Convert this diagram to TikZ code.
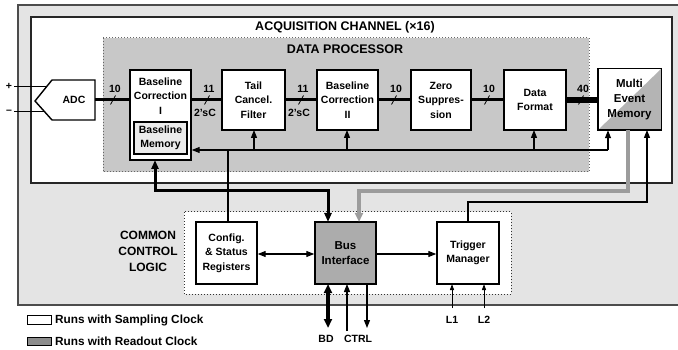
\documentclass[tikz,border=0pt]{standalone}
\usepackage{fontspec}
\setmainfont{Liberation Sans}
\usetikzlibrary{arrows.meta}
\definecolor{outerg}{HTML}{E4E4E4}
\definecolor{dpg}{HTML}{C8C8C8}
\definecolor{busg}{HTML}{ACACAC}
\definecolor{memg}{HTML}{B4B4B4}
\definecolor{bmg}{HTML}{EBEBEB}
\definecolor{legg}{HTML}{8C8C8C}
\definecolor{pathg}{HTML}{9C9C9C}
\tikzset{
  boxtext/.style={font=\fontsize{10.5}{14.5}\selectfont\bfseries, align=center, inner sep=0pt},
  blk/.style={draw, line width=1.4pt, fill=white, inner sep=0pt},
  datal/.style={line width=3pt},
  ctl/.style={line width=1.2pt},
  tip/.style={-{Triangle[length=8pt,width=6pt]}},
  smalltip/.style={-{Triangle[length=6pt,width=4pt]}},
  slash/.style={line width=0.8pt},
  lbl/.style={font=\fontsize{10.5}{12}\selectfont\bfseries, inner sep=0pt},
  title/.style={font=\fontsize{12.5}{14}\selectfont\bfseries, inner sep=0pt},
}
\begin{document}
\begin{tikzpicture}[x=1pt,y=-1pt]
\useasboundingbox (0,0) rectangle (678,350);
% outer common area
\fill[outerg] (18,5) rectangle (678,305);
\draw[line width=1.4pt, draw=black!70] (678,5) -- (18,5) -- (18,305) -- (678,305);
% acquisition channel
\draw[line width=1.4pt, fill=white, draw=black!85] (31,17) rectangle (672,183);
\node[title] (acqt) at (345,27) {ACQUISITION CHANNEL (×16)};
% data processor
\draw[dotted, line width=1pt, draw=black!60, fill=dpg] (103,38) rectangle (589,172);
\node[title] (dpt) at (345,49) {DATA PROCESSOR};
% common control logic
\draw[dotted, line width=1pt, draw=black!80, fill=white] (184,212) rectangle (511,294);
\node[title, align=center, font=\fontsize{12}{16}\selectfont\bfseries] (cclt) at (148,251) {COMMON\\CONTROL\\LOGIC};

% ADC inputs
\coordinate (pin) at (14,87);
\coordinate (nin) at (14,112);
\node[lbl] (plus) at (9,86) {+};
\node[lbl] (minus) at (9,112) {–};
\draw[line width=1pt] (pin) -- (48,87);
\draw[line width=1pt] (nin) -- (48,112);
\draw[line width=1.4pt, fill=white] (35,101) -- (52,80) -- (95,80) -- (95,120) -- (52,120) -- cycle;
\node[boxtext] (adc) at (74,100) {ADC};
\coordinate (adcout) at (95,100);

% processing boxes
\node[blk, minimum width=61pt, minimum height=90pt] (bci) at (160.5,115) {};
\node[boxtext] (bcit) at (160.5,96) {Baseline\\Correction\\I};
\node[draw, line width=1.2pt, fill=bmg, minimum width=53pt, minimum height=32pt, inner sep=0pt, boxtext] (bm) at (160.5,138) {Baseline\\Memory};
\node[blk, boxtext, minimum width=63pt, minimum height=60pt] (tail) at (253.5,100) {Tail\\Cancel.\\Filter};
\node[blk, boxtext, minimum width=61pt, minimum height=60pt] (bcii) at (347.5,100) {Baseline\\Correction\\II};
\node[blk, boxtext, minimum width=60pt, minimum height=60pt] (zs) at (441,100) {Zero\\Suppres-\\sion};
\node[blk, boxtext, minimum width=62pt, minimum height=60pt] (df) at (535,100) {Data\\Format};
% multi event memory
\node[minimum width=63pt, minimum height=61pt, inner sep=0pt, fill=white] (mem) at (629.5,99.5) {};
\fill[memg] (mem.south west) -- (mem.south east) -- (mem.north east) -- cycle;
\draw[line width=1.4pt] (mem.south west) rectangle (mem.north east);
\node[boxtext, font=\fontsize{11.5}{15}\selectfont\bfseries] (memt) at (629.5,99.5) {Multi\\Event\\Memory};

% data path
\draw[datal] (adcout) -- (bci.west |- 0,100);
\draw[datal] (bci.east |- 0,100) -- (tail.west);
\draw[datal] (tail.east) -- (bcii.west);
\draw[datal] (bcii.east) -- (zs.west);
\draw[datal] (zs.east) -- (df.west);
\draw[line width=6pt] (df.east) -- (mem.west |- 0,100);
% slashes and widths
\foreach \x/\w in {113/10, 207/11, 301/11, 394/10, 487/10, 581/40}{
  \draw[slash] (\x-2.5,104.5) -- (\x+2.5,95.5);
  \node[lbl] at (\x+2,89) {\w};
}
\node[lbl] (c1) at (205,113) {2'sC};
\node[lbl] (c2) at (299,113) {2'sC};

% control bus inside channel
\coordinate (cr) at (608,150);
\draw[ctl, tip] (cr) -- (bci.east |- cr);
\draw[ctl, tip] (cr) -- (cr |- mem.south);
\draw[ctl, tip] (254,150) -- (254,130);
\draw[ctl, tip] (347,150) -- (347,130);
\draw[ctl, tip] (534,150) -- (534,130);

% common control logic boxes
\node[blk, boxtext, minimum width=61pt, minimum height=62pt] (cfg) at (226.5,253) {Config.\\\& Status\\Registers};
\node[blk, boxtext, fill=busg, minimum width=61pt, minimum height=62pt, font=\fontsize{11.5}{15}\selectfont\bfseries] (bus) at (345.5,253) {Bus\\Interface};
\node[blk, boxtext, minimum width=62pt, minimum height=62pt] (trig) at (468,253) {Trigger\\Manager};

\draw[ctl] (228,150) -- (228,222);
\draw[ctl, {Triangle[length=8pt,width=6pt]}-{Triangle[length=8pt,width=6pt]}] (cfg.east |- 0,254) -- (bus.west |- 0,254);
\draw[ctl, tip] (bus.east |- 0,254) -- (trig.west |- 0,254);

% thick black path baseline memory <-> bus
\draw[line width=3pt, {Triangle[length=9pt,width=7pt]}-{Triangle[length=9pt,width=7pt]}] (155,160) -- (155,191) -- (328,191) -- (328,222);
% gray path memory -> bus
\draw[line width=4pt, pathg, -{Triangle[length=9pt,width=8pt]}] (628,130) -- (628,191) -- (359,191) -- (359,222);
% trigger -> memory
\draw[ctl, tip] (468,222) -- (468,202) -- (647,202) -- (647,130);

% bus external
\draw[line width=3.5pt, {Triangle[length=9pt,width=8pt]}-{Triangle[length=9pt,width=8pt]}] (328,284) -- (328,328);
\draw[ctl, tip] (347,331) -- (347,284);
\draw[ctl, tip] (367,284) -- (367,328);
\node[lbl] (bd) at (326,339) {BD};
\node[lbl] (ctrl) at (358,339) {CTRL};
% trigger inputs
\draw[line width=1pt, smalltip] (452,308) -- (452,284);
\draw[line width=1pt, smalltip] (484,308) -- (484,284);
\node[lbl] (l1) at (452,320) {L1};
\node[lbl] (l2) at (484,320) {L2};

% legend
\draw[line width=1pt, fill=white] (27,315) rectangle (51,324);
\draw[line width=1pt, fill=legg] (27,337) rectangle (51,345);
\node[lbl, anchor=west, font=\fontsize{11.8}{13}\selectfont\bfseries] (leg1) at (55,320) {Runs with Sampling Clock};
\node[lbl, anchor=west, font=\fontsize{11.8}{13}\selectfont\bfseries] (leg2) at (55,341) {Runs with Readout Clock};
\end{tikzpicture}
\end{document}
